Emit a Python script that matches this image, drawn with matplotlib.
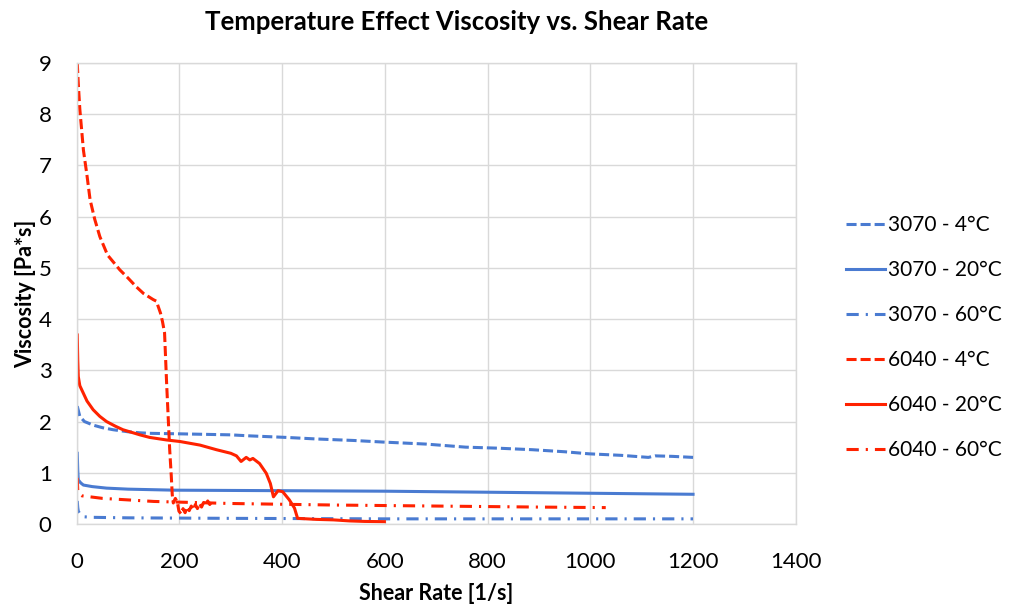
import numpy as np
import matplotlib
matplotlib.use("Agg")
import matplotlib.pyplot as plt

plt.rcParams['font.family'] = ['Lato', 'DejaVu Sans']

# series read as (shear rate, viscosity)
x_3070_4 = [1, 3, 6, 15, 32, 50, 71, 100, 123, 142, 200, 300, 337, 408, 466, 540, 595,
            680, 757, 820, 887, 950, 997, 1060, 1113, 1126, 1160, 1200]
y_3070_4 = [2.30, 2.22, 2.10, 2.00, 1.93, 1.88, 1.84, 1.80, 1.78, 1.77, 1.76, 1.74, 1.72,
            1.69, 1.66, 1.63, 1.60, 1.56, 1.50, 1.48, 1.45, 1.41, 1.37, 1.34, 1.30, 1.33,
            1.32, 1.30]

x_3070_20 = [1, 2, 3, 8, 13, 30, 58, 100, 190, 400, 600, 800, 1000, 1200]
y_3070_20 = [1.38, 1.05, 0.86, 0.80, 0.76, 0.73, 0.70, 0.68, 0.66, 0.65, 0.64, 0.62, 0.60, 0.58]

x_3070_60 = [1, 2, 3, 8, 15, 30, 100, 300, 600, 900, 1200]
y_3070_60 = [0.45, 0.32, 0.25, 0.17, 0.14, 0.13, 0.12, 0.11, 0.10, 0.10, 0.10]

x_6040_4 = [1, 3, 6, 13, 20, 26, 35, 45, 60, 84, 100, 116, 130, 149, 155, 163, 167, 171,
            175, 178, 181, 184, 186, 188, 192, 196, 199, 203, 207, 211, 215, 219, 223,
            227, 231, 235, 239, 243, 247, 251, 255, 259, 262]
y_6040_4 = [9.0, 8.6, 8.1, 7.3, 6.8, 6.33, 5.95, 5.61, 5.25, 4.96, 4.80, 4.63, 4.50, 4.38,
            4.35, 4.12, 3.95, 3.73, 2.75, 2.10, 1.45, 0.95, 0.57, 0.41, 0.50, 0.42, 0.25,
            0.20, 0.30, 0.22, 0.33, 0.26, 0.35, 0.28, 0.38, 0.30, 0.40, 0.33, 0.42, 0.36,
            0.45, 0.38, 0.42]

x_6040_20 = [1, 2, 3, 6, 13, 20, 32, 45, 58, 75, 90, 123, 142, 175, 201, 240, 272, 300,
             311, 320, 330, 337, 343, 356, 369, 377, 383, 392, 401, 414, 424, 430, 466,
             500, 531, 560, 599]
y_6040_20 = [3.69, 3.20, 2.88, 2.70, 2.55, 2.40, 2.23, 2.10, 2.00, 1.91, 1.84, 1.74, 1.69,
             1.64, 1.61, 1.54, 1.45, 1.38, 1.33, 1.22, 1.30, 1.25, 1.28, 1.18, 0.99, 0.79,
             0.53, 0.65, 0.63, 0.47, 0.31, 0.11, 0.09, 0.08, 0.06, 0.05, 0.045]

x_6040_60 = [1, 2, 5, 10, 50, 150, 300, 500, 700, 900, 1030]
y_6040_60 = [0.90, 0.66, 0.58, 0.55, 0.50, 0.44, 0.40, 0.37, 0.35, 0.33, 0.32]

labels = ['3070 - 4°C', '3070 - 20°C', '3070 - 60°C',
          '6040 - 4°C', '6040 - 20°C', '6040 - 60°C']

BLUE = '#4a7bd1'
RED = '#ff2200'
dash = (0, (3.3, 1.3))
dashdot = (0, (4, 2.3, 0.7, 2.3))

fig = plt.figure(figsize=(10.15, 6.09), dpi=100)
ax = fig.add_axes([0.0756, 0.1396, 0.7084, 0.757])

lw = 2.2
ax.plot(x_3070_4, y_3070_4, color=BLUE, lw=lw, ls=dash, label=labels[0])
ax.plot(x_3070_20, y_3070_20, color=BLUE, lw=lw, ls='-', label=labels[1])
ax.plot(x_3070_60, y_3070_60, color=BLUE, lw=lw, ls=dashdot, label=labels[2])
ax.plot(x_6040_4, y_6040_4, color=RED, lw=lw, ls=dash, label=labels[3])
ax.plot(x_6040_20, y_6040_20, color=RED, lw=lw, ls='-', label=labels[4])
ax.plot(x_6040_60, y_6040_60, color=RED, lw=lw, ls=dashdot, label=labels[5])

ax.set_xlim(0, 1400)
ax.set_ylim(0, 9)
ax.set_xticks(np.arange(0, 1401, 200))
ax.set_yticks(np.arange(0, 10, 1))
ax.grid(True, color='#d9d9d9', lw=1)
ax.set_axisbelow(True)
for s in ax.spines.values():
    s.set_color('#d9d9d9')
    s.set_linewidth(1)
ax.tick_params(length=0, labelsize=16)
ax.tick_params(axis='x', pad=20)
ax.tick_params(axis='y', pad=18)

ax.set_xlabel('Shear Rate [1/s]', fontsize=15.5, fontweight='bold', labelpad=8)
ax.set_ylabel('Viscosity [Pa*s]', fontsize=15.5, fontweight='bold', labelpad=2)
fig.text(457 / 1015, 1 - 22 / 609, 'Temperature Effect Viscosity vs. Shear Rate',
         ha='center', va='center', fontsize=18.5, fontweight='bold')

fig.legend(loc='center left', bbox_to_anchor=(846 / 1015, 0.445), frameon=False,
           borderpad=0, borderaxespad=0, fontsize=15, handlelength=1.85,
           handletextpad=0.15, labelspacing=1.2)

fig.savefig('out.png', dpi=100)
